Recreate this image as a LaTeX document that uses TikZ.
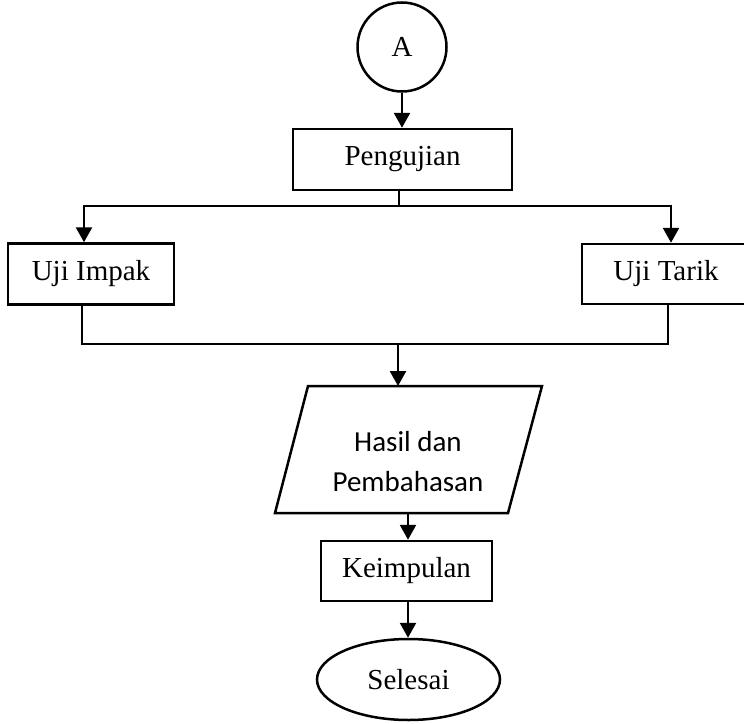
\documentclass[tikz,border=0pt]{standalone}
\usepackage{fontspec}
\setmainfont{Liberation Serif}
\newfontfamily\calib{Carlito}
\usetikzlibrary{arrows.meta,shapes.geometric}
\begin{document}
\begin{tikzpicture}[x=1pt,y=-1pt,line width=2.5pt,
  every node/.style={font=\fontsize{29}{34}\selectfont},
  boxnode/.style={draw,rectangle,inner sep=0pt},
  arr/.style={-{Triangle[width=16pt,length=15pt]}},
  line join=miter]
\useasboundingbox (0,0) rectangle (744,723);
% nodes
\node[draw,circle,minimum size=89pt,inner sep=0pt] (A) at (402,47) {A};
\node[boxnode,minimum width=219pt,minimum height=61pt] (peng) at (402.5,159.5) {Pengujian};
\node[boxnode,minimum width=166pt,minimum height=61pt] (impak) at (91,274) {Uji Impak};
\node[boxnode,minimum width=168pt,minimum height=60pt] (tarik) at (666,274) {Uji Tarik};
% parallelogram
\coordinate (p1) at (308,386);
\coordinate (p2) at (542,386);
\coordinate (p3) at (508,513);
\coordinate (p4) at (275,513);
\draw (p1) -- (p2) -- (p3) -- (p4) -- cycle;
\node[align=center,font=\calib\fontsize{29}{40}\selectfont] (hasil) at (408,462) {Hasil dan\\Pembahasan};
\coordinate (htop) at (398,386);
\coordinate (hbot) at (408,513);
\node[boxnode,minimum width=171pt,minimum height=60pt] (kesim) at (406.5,571) {Keimpulan};
\node[draw,ellipse,minimum width=183pt,minimum height=81pt,inner sep=0pt] (sel) at (408.5,679.5) {Selesai};
% connector coordinates
\coordinate (split) at (399,206);
\coordinate (li) at (84,206);
\coordinate (ri) at (671,206);
\coordinate (lb) at (82,344);
\coordinate (rb) at (668,344);
\coordinate (join) at (398,344);
% connectors
\draw[arr] (A.south) -- (peng.north -| A.south);
\draw (peng.south -| split) -- (split);
\draw[arr] (split) -- (li) -- (li |- impak.north);
\draw[arr] (split) -- (ri) -- (ri |- tarik.north);
\draw (impak.south -| lb) -- (lb) -- (rb) -- (tarik.south -| rb);
\draw[arr] (join) -- (htop);
\draw[arr] (hbot) -- (hbot |- kesim.north);
\draw[arr] (kesim.south -| hbot) -- (sel.north -| hbot);
\end{tikzpicture}
\end{document}
